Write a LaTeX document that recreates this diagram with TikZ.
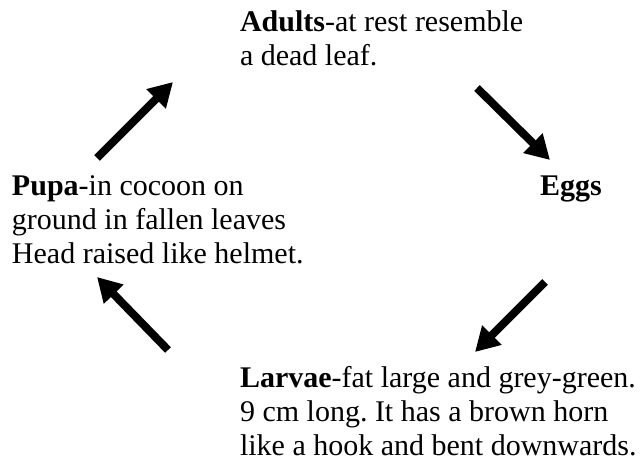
\documentclass[tikz,border=0pt]{standalone}
\usepackage{fontspec}
\setmainfont{Liberation Serif}
\usetikzlibrary{arrows.meta}
\frenchspacing
\tikzset{
  stage/.style={inner sep=0pt, outer sep=0pt, align=left, anchor=base west, font=\fontsize{30}{34}\selectfont},
  fatarrow/.style={line width=8pt, line cap=butt, -{Triangle[length=24pt,width=26pt]}}
}
\begin{document}
\begin{tikzpicture}[x=1pt,y=-1pt]
\useasboundingbox[fill=white] (0,0) rectangle (643,462);
\node[stage] (adults) at (240,66) {\textbf{Adults}-at rest resemble\\a dead leaf.};
\node[stage] (eggs) at (540,196) {\textbf{Eggs}};
\node[stage] (pupa) at (12,264) {\textbf{Pupa}-in cocoon on\\ground in fallen leaves\\Head raised like helmet.};
\node[stage] (larvae) at (240,455) {\textbf{Larvae}-fat large and grey-green.\\9 cm long. It has a brown horn\\like a hook and bent downwards.};
\coordinate (a1s) at (97,158);  \coordinate (a1e) at (173,82);
\coordinate (a2s) at (477,88);  \coordinate (a2e) at (550,160);
\coordinate (a3s) at (545,282); \coordinate (a3e) at (475,352);
\coordinate (a4s) at (168,350); \coordinate (a4e) at (97,277);
\draw[fatarrow] (a1s) -- (a1e);
\draw[fatarrow] (a2s) -- (a2e);
\draw[fatarrow] (a3s) -- (a3e);
\draw[fatarrow] (a4s) -- (a4e);
\end{tikzpicture}
\end{document}
